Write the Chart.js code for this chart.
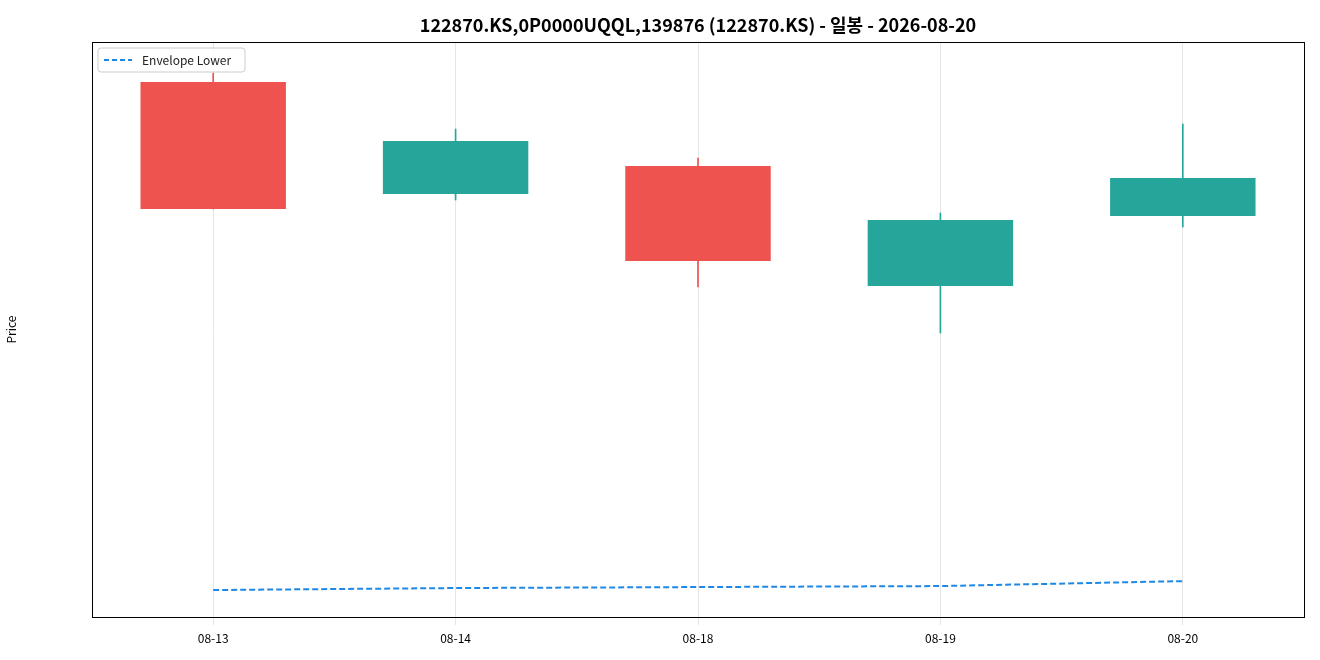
<!DOCTYPE html>
<html><head><meta charset="utf-8">
<script src="https://cdn.jsdelivr.net/npm/chart.js@4"></script>
<style>html,body{margin:0;padding:0;background:#fff}#w{width:1320px;height:660px}</style>
</head><body><div id="w"><canvas id="c"></canvas></div>
<script>
const labels = ['08-13','08-14','08-18','08-19','08-20'];
const opens  = [42263, 40000, 40566, 38141, 39556];
const closes = [39697, 41071, 38646, 39475, 40323];
const highs  = [42444, 41313, 40727, 39616, 41414];
const lows   = [39697, 39879, 38121, 37192, 39333];
const envelopeLower = [32000, 32040, 32060, 32080, 32180];
const titleText = '122870.KS,0P0000UQQL,139876 (122870.KS) - 일봉 - 2026-08-20';
const UP='#26a69a', DOWN='#ef5350';
const col = opens.map((o,i)=> closes[i]>=o?UP:DOWN);
const FONT='"Noto Sans CJK KR","Noto Sans",sans-serif';

const deco = {
  id:'deco',
  afterDraw(ch){
    const c=ch.ctx, a=ch.chartArea;
    c.save();
    c.strokeStyle='#000'; c.lineWidth=1;
    c.strokeRect(a.left+0.5,a.top+0.5,a.right-a.left,a.bottom-a.top);
    c.fillStyle='#000'; c.font='bold 18px '+FONT; c.textAlign='center'; c.textBaseline='middle';
    c.fillText(titleText,(a.left+a.right)/2,25);
    // legend
    const x=a.left+6,y=a.top+6,w=147,h=24;
    c.fillStyle='rgba(255,255,255,0.85)'; c.strokeStyle='#ccc';
    c.beginPath(); c.roundRect(x,y,w,h,3); c.fill(); c.stroke();
    c.strokeStyle='#1e88e5'; c.lineWidth=2; c.setLineDash([5,3]);
    c.beginPath(); c.moveTo(x+6,y+12); c.lineTo(x+34,y+12); c.stroke(); c.setLineDash([]);
    c.fillStyle='#222'; c.font='12px '+FONT; c.textAlign='left';
    c.fillText('Envelope Lower',x+44,y+12);
    c.restore();
  }
};

new Chart(document.getElementById('c'),{
  data:{labels,datasets:[
    {type:'line',label:'Envelope Lower',data:envelopeLower,borderColor:'#1e88e5',borderWidth:2,borderDash:[6,3],pointRadius:0,fill:false,order:0},
    {type:'bar',label:'wick',data:labels.map((_,i)=>[lows[i],highs[i]]),backgroundColor:col,barThickness:1,grouped:false,order:2},
    {type:'bar',label:'body',data:labels.map((_,i)=>[opens[i],closes[i]]),backgroundColor:col,categoryPercentage:1,barPercentage:0.6,grouped:false,order:1}
  ]},
  options:{
    responsive:true,maintainAspectRatio:false,animation:false,
    layout:{padding:{top:42,right:16,left:0,bottom:0}},
    plugins:{legend:{display:false},title:{display:false},tooltip:{enabled:false}},
    scales:{
      x:{offset:true,grid:{color:'#e5e5e5',offset:false},border:{display:false},
         ticks:{color:'#000',font:{family:FONT,size:12},padding:6},
         afterFit(s){s.height=43;}},
      y:{min:31455,max:43071,grid:{color:'#e5e5e5'},border:{display:false},
         ticks:{stepSize:2000,color:'#000',font:{family:FONT,size:12}},
         afterBuildTicks(s){s.ticks=s.ticks.filter(t=>t.value%2000===0);},
         title:{display:true,text:'Price',color:'#000',font:{family:FONT,size:12}},
         afterFit(s){s.width=92;}}
    }
  },
  plugins:[deco]
});
</script></body></html>
